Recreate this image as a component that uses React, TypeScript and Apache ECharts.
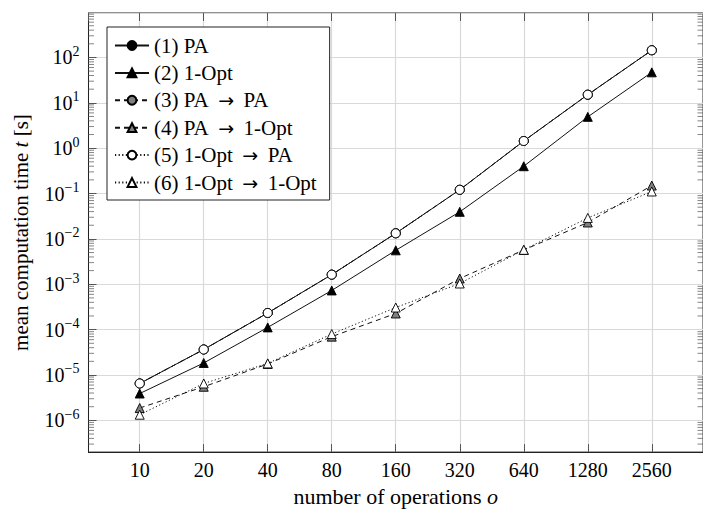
import React, { useEffect, useRef } from "react";
import * as echarts from "echarts";

const operations = ["10", "20", "40", "80", "160", "320", "640", "1280", "2560"];
const pa = [6.5e-6, 3.65e-5, 2.33e-4, 1.63e-3, 1.33e-2, 0.121, 1.44, 15.1, 144];
const opt1 = [3.9e-6, 1.84e-5, 1.12e-4, 7.3e-4, 5.6e-3, 3.95e-2, 0.4, 4.9, 47];
const paPa = [6.5e-6, 3.65e-5, 2.33e-4, 1.63e-3, 1.33e-2, 0.121, 1.44, 15.1, 144];
const pa1Opt = [1.87e-6, 5.5e-6, 1.75e-5, 7.0e-5, 2.27e-4, 1.34e-3, 5.7e-3, 0.023, 0.15];
const opt1Pa = [6.5e-6, 3.65e-5, 2.33e-4, 1.63e-3, 1.33e-2, 0.121, 1.44, 15.1, 144];
const opt1Opt1 = [1.33e-6, 6.5e-6, 1.8e-5, 8.0e-5, 3.07e-4, 1.04e-3, 5.75e-3, 0.029, 0.111];

const seriesNames = [
  "(1) PA",
  "(2) 1-Opt",
  "(3) PA → PA",
  "(4) PA → 1-Opt",
  "(5) 1-Opt → PA",
  "(6) 1-Opt → 1-Opt",
];

const X_MIN = -0.8;
const X_MAX = 8.8;
const Y_MIN = -6.7;
const Y_MAX = 2.98;
const FONT = "'Liberation Serif', 'DejaVu Serif', serif";

const toPoints = (arr: number[]) => arr.map((v, i) => [i, Math.log10(v)]);

const isInt = (v: number) => Math.abs(v - Math.round(v)) < 1e-6;

export default function App() {
  const ref = useRef<HTMLDivElement>(null);
  useEffect(() => {
    if (!ref.current) return;
    const chart = echarts.init(ref.current, null, { renderer: "svg" });

    const minorVals: number[][] = [];
    for (let k = -7; k <= 2; k++) {
      for (let m = 2; m <= 9; m++) {
        const v = Math.log10(m * Math.pow(10, k));
        if (v > Y_MIN + 0.01 && v < Y_MAX - 0.01) minorVals.push([X_MIN, v]);
      }
    }

    const lineCol = "#111";
    const mk = (
      name: string,
      data: number[],
      dash: any,
      symbol: string,
      fill: string
    ) => ({
      name,
      type: "line",
      data: toPoints(data),
      symbol,
      symbolSize: 9,
      showSymbol: true,
      lineStyle: { color: lineCol, width: 1, type: dash },
      itemStyle: { color: fill, borderColor: "#000", borderWidth: 0.9 },
      z: 3,
    });

    const solid = "solid";
    const dashed = [5, 4];
    const dotted = [1.2, 2.4];

    const option: any = {
      animation: false,
      backgroundColor: "#fff",
      textStyle: { fontFamily: FONT },
      grid: {
        left: 88.5,
        top: 13,
        right: -6.7,
        bottom: 55.3,
        show: true,
        borderColor: "#222",
        borderWidth: 1,
        backgroundColor: "transparent",
      },
      legend: {
        data: seriesNames,
        orient: "vertical",
        left: 107,
        top: 27,
        padding: [8, 13, 7, 7],
        itemGap: 6.4,
        itemWidth: 34,
        itemHeight: 11,
        backgroundColor: "#fff",
        borderColor: "#222",
        borderWidth: 1,
        formatter: (name: string) => {
          const parts = name.split(" → ");
          return parts.map((p) => "{t|" + p + "}").join("{r|\u2002→\u2002}");
        },
        textStyle: {
          fontFamily: FONT,
          fontSize: 21,
          color: "#000",
          lineHeight: 20,
          rich: {
            t: { fontFamily: FONT, fontSize: 21, color: "#000", lineHeight: 20 },
            r: { fontFamily: "'DejaVu Sans', sans-serif", fontSize: 19, color: "#000", lineHeight: 20 },
          },
        },
      },
      xAxis: [
        {
          type: "value",
          min: X_MIN,
          max: X_MAX,
          splitNumber: 10,
          position: "bottom",
          axisLine: { show: true, onZero: false, lineStyle: { color: "#222", width: 1 } },
          axisTick: { show: true, inside: true, length: 8, lineStyle: { color: "#555" } },
          axisLabel: {
            margin: 8,
            fontFamily: FONT,
            fontSize: 20,
            color: "#000",
            showMinLabel: false,
            showMaxLabel: false,
            formatter: (v: number) => (isInt(v) && v >= 0 && v < operations.length ? operations[Math.round(v)] : ""),
          },
          splitLine: { show: true, lineStyle: { color: "#d9d9d9", width: 1.2 } },
          name: "number of operations {i|o}",
          nameLocation: "middle",
          nameGap: 28,
          nameTextStyle: {
            fontFamily: FONT,
            fontSize: 22,
            color: "#000",
            rich: { i: { fontFamily: FONT, fontSize: 22, fontStyle: "italic", color: "#000" } },
          },
        },
        {
          type: "value",
          min: X_MIN,
          max: X_MAX,
          splitNumber: 10,
          position: "top",
          axisLine: { show: false, onZero: false },
          axisTick: { show: true, inside: true, length: 8, lineStyle: { color: "#555" } },
          axisLabel: { show: false },
          splitLine: { show: false },
        },
      ],
      yAxis: {
        type: "value",
        min: Y_MIN,
        max: Y_MAX,
        splitNumber: 10,
        axisLine: { show: true, onZero: false, lineStyle: { color: "#222", width: 1 } },
        axisTick: { show: true, inside: true, length: 8, lineStyle: { color: "#555" } },
        axisLabel: {
          margin: 9,
          showMinLabel: false,
          showMaxLabel: false,
          formatter: (v: number) => {
            if (!isInt(v)) return "";
            const e = Math.round(v);
            const es = e < 0 ? "−" + -e : String(e);
            return "{b|10}{s|" + es + "}";
          },
          rich: {
            b: { fontFamily: FONT, fontSize: 20, lineHeight: 26, color: "#000" },
            s: { fontFamily: FONT, fontSize: 14, lineHeight: 14, verticalAlign: "top", color: "#000" },
          },
        },
        splitLine: { show: true, lineStyle: { color: "#d9d9d9", width: 1.2 } },
        name: "{a|mean computation time }{i|t}{a| [s]}",
        nameLocation: "middle",
        nameGap: 57,
        nameRotate: 90,
        nameTextStyle: {
          rich: {
            a: { fontFamily: FONT, fontSize: 21, color: "#000" },
            i: { fontFamily: FONT, fontSize: 21, fontStyle: "italic", color: "#000" },
          },
        },
      },
      series: [
        {
          type: "custom",
          silent: true,
          clip: false,
          data: minorVals,
          z: 2,
          renderItem: (params: any, api: any) => {
            const v = api.value(1);
            const pL = api.coord([X_MIN, v]);
            const pR = api.coord([X_MAX, v]);
            return {
              type: "group",
              children: [
                { type: "line", shape: { x1: pL[0], y1: pL[1], x2: pL[0] + 5.5, y2: pL[1] }, style: { stroke: "#666", lineWidth: 0.8 } },
                { type: "line", shape: { x1: pR[0], y1: pR[1], x2: pR[0] - 5.5, y2: pR[1] }, style: { stroke: "#666", lineWidth: 0.8 } },
              ],
            };
          },
        },
        mk(seriesNames[0], pa, solid, "circle", "#000"),
        mk(seriesNames[1], opt1, solid, "triangle", "#000"),
        mk(seriesNames[2], paPa, dashed, "circle", "#808080"),
        mk(seriesNames[3], pa1Opt, dashed, "triangle", "#808080"),
        mk(seriesNames[4], opt1Pa, dotted, "circle", "#fff"),
        mk(seriesNames[5], opt1Opt1, dotted, "triangle", "#fff"),
      ],
    };
    chart.setOption(option);
    return () => chart.dispose();
  }, []);
  return <div ref={ref} style={{ width: 703, height: 512, position: "absolute", left: 0, top: 0 }} />;
}
